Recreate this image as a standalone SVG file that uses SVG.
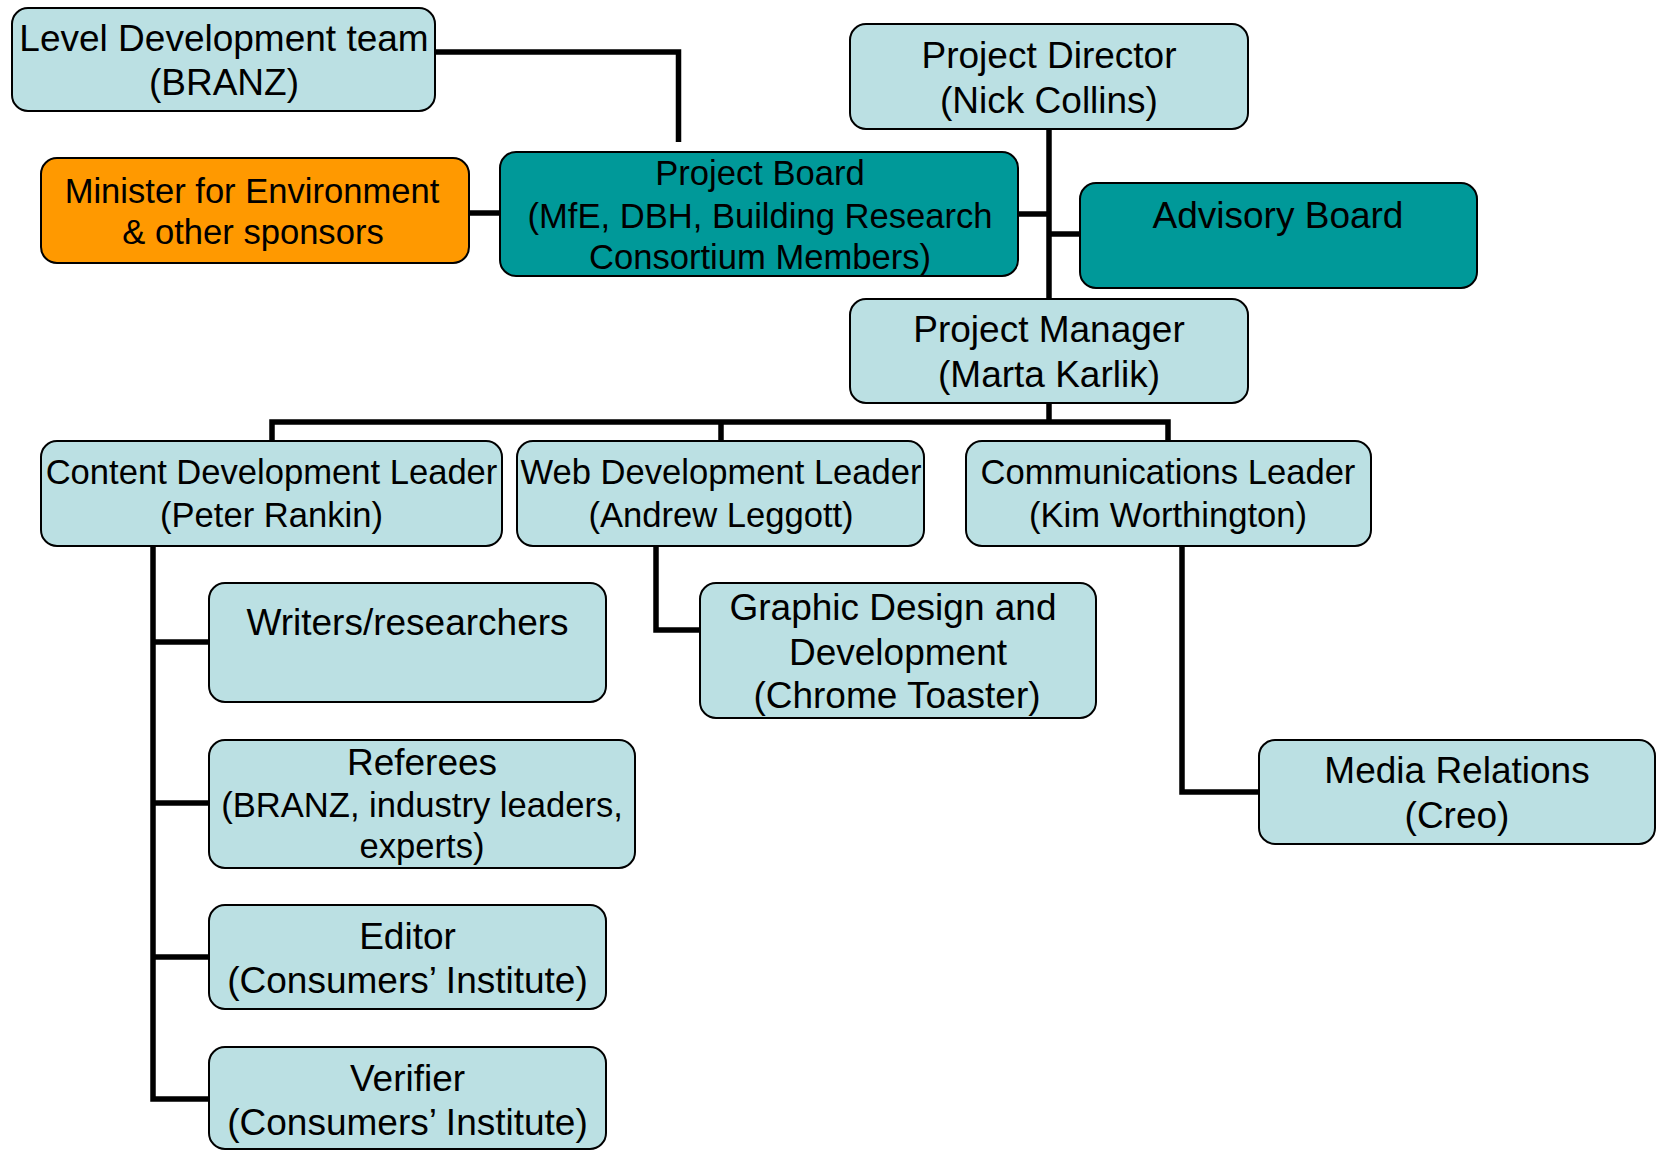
<svg xmlns="http://www.w3.org/2000/svg" width="1657" height="1151" viewBox="0 0 1657 1151">
<style>
.box{stroke:#000;stroke-width:2}
.lt{fill:#BBE0E3}
.tl{fill:#009999}
.or{fill:#FF9900}
text{font-family:"Liberation Sans",Arial,sans-serif;font-size:37px;fill:#000;text-anchor:middle}
.s{font-size:34.6px}
.c{fill:none;stroke:#000;stroke-width:5.5;stroke-linejoin:miter}
</style>
<rect width="1657" height="1151" fill="#fff"/>
<g id="connectors">
<path class="c" d="M435,52 H678.5 V142"/>
<path class="c" d="M469,213 H500"/>
<path class="c" d="M1049,129 V299"/>
<path class="c" d="M1018,214 H1049"/>
<path class="c" d="M1049,234 H1080"/>
<path class="c" d="M1049,403 V422"/>
<path class="c" d="M272,441 V422 H1168 V441"/>
<path class="c" d="M721,422 V441"/>
<path class="c" d="M153,546 V1099 H209"/>
<path class="c" d="M153,642 H209"/>
<path class="c" d="M153,803 H209"/>
<path class="c" d="M153,957 H209"/>
<path class="c" d="M656,546 V630 H700"/>
<path class="c" d="M1182,546 V792 H1259"/>
</g>
<g id="level-dev">
<rect class="box lt" x="12" y="8" width="423" height="103" rx="16"/>
<text x="224" y="51">Level Development team</text>
<text x="224" y="95">(BRANZ)</text>
</g>
<g id="minister">
<rect class="box or" x="41" y="158" width="428" height="105" rx="16"/>
<text class="s" x="252" y="203">Minister for Environment</text>
<text class="s" x="253" y="244">&amp; other sponsors</text>
</g>
<g id="project-board">
<rect class="box tl" x="500" y="152" width="518" height="124" rx="16"/>
<text class="s" x="760" y="185">Project Board</text>
<text class="s" x="760" y="228">(MfE, DBH, Building Research</text>
<text class="s" x="760" y="269">Consortium Members)</text>
</g>
<g id="project-director">
<rect class="box lt" x="850" y="24" width="398" height="105" rx="16"/>
<text x="1049" y="68">Project Director</text>
<text x="1049" y="113">(Nick Collins)</text>
</g>
<g id="advisory-board">
<rect class="box tl" x="1080" y="183" width="397" height="105" rx="16"/>
<text x="1278" y="228">Advisory Board</text>
</g>
<g id="project-manager">
<rect class="box lt" x="850" y="299" width="398" height="104" rx="16"/>
<text x="1049" y="342">Project Manager</text>
<text x="1049" y="387">(Marta Karlik)</text>
</g>
<g id="content-leader">
<rect class="box lt" x="41" y="441" width="461" height="105" rx="16"/>
<text class="s" x="271.5" y="484">Content Development Leader</text>
<text class="s" x="271.5" y="527">(Peter Rankin)</text>
</g>
<g id="web-leader">
<rect class="box lt" x="517" y="441" width="407" height="105" rx="16"/>
<text class="s" x="721" y="484">Web Development Leader</text>
<text class="s" x="721" y="527">(Andrew Leggott)</text>
</g>
<g id="comms-leader">
<rect class="box lt" x="966" y="441" width="405" height="105" rx="16"/>
<text class="s" x="1168" y="484">Communications Leader</text>
<text class="s" x="1168" y="527">(Kim Worthington)</text>
</g>
<g id="graphic-design">
<rect class="box lt" x="700" y="583" width="396" height="135" rx="16"/>
<text x="893" y="620">Graphic Design and</text>
<text x="898" y="665">Development</text>
<text x="897" y="708">(Chrome Toaster)</text>
</g>
<g id="media-relations">
<rect class="box lt" x="1259" y="740" width="396" height="104" rx="16"/>
<text x="1457" y="783">Media Relations</text>
<text x="1457" y="828">(Creo)</text>
</g>
<g id="writers">
<rect class="box lt" x="209" y="583" width="397" height="119" rx="16"/>
<text x="407.5" y="635">Writers/researchers</text>
</g>
<g id="referees">
<rect class="box lt" x="209" y="740" width="426" height="128" rx="16"/>
<text x="422" y="775">Referees</text>
<text class="s" x="422" y="817">(BRANZ, industry leaders,</text>
<text class="s" x="422" y="858">experts)</text>
</g>
<g id="editor">
<rect class="box lt" x="209" y="905" width="397" height="104" rx="16"/>
<text x="407.5" y="949">Editor</text>
<text x="407.5" y="993">(Consumers’ Institute)</text>
</g>
<g id="verifier">
<rect class="box lt" x="209" y="1047" width="397" height="102" rx="16"/>
<text x="407.5" y="1091">Verifier</text>
<text x="407.5" y="1135">(Consumers’ Institute)</text>
</g>
</svg>
